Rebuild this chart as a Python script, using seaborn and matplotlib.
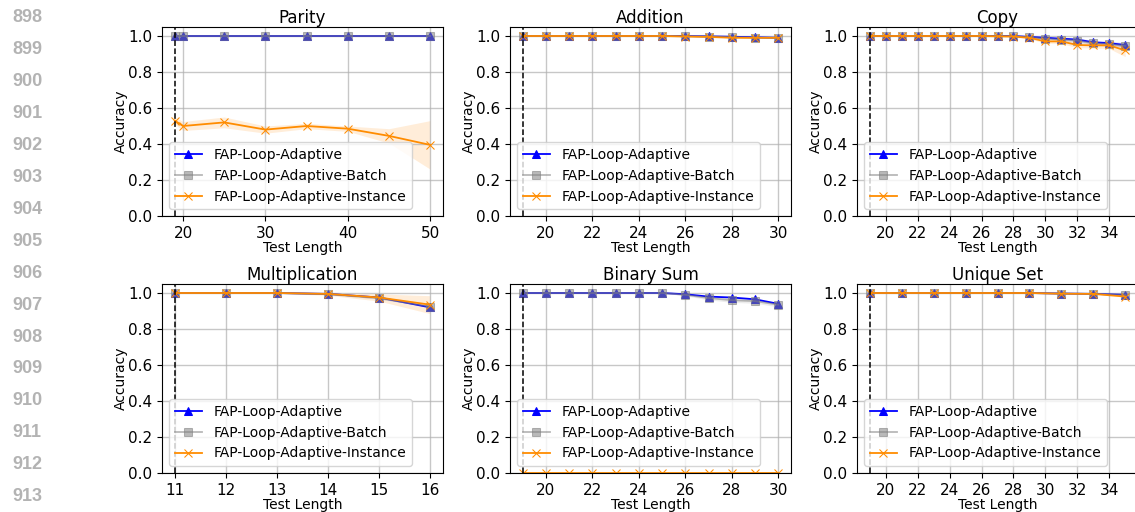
import seaborn as sns
import matplotlib.pyplot as plt
from matplotlib.ticker import MultipleLocator

# Parity
parity_x = [19, 20, 25, 30, 35, 40, 45, 50]
parity_adaptive = [1.0, 1.0, 1.0, 1.0, 1.0, 1.0, 1.0, 1.0]
parity_batch = [1.0, 1.0, 1.0, 1.0, 1.0, 1.0, 1.0, 1.0]
parity_instance = [0.53, 0.50, 0.52, 0.48, 0.50, 0.485, 0.445, 0.395]
parity_instance_err = [0.02, 0.025, 0.03, 0.02, 0.015, 0.015, 0.04, 0.135]

# Addition
addition_x = [19, 20, 21, 22, 23, 24, 25, 26, 27, 28, 29, 30]
addition_adaptive = [1.0, 1.0, 1.0, 1.0, 1.0, 1.0, 1.0, 1.0, 0.998, 0.996, 0.993, 0.99]
addition_batch = [1.0, 1.0, 1.0, 1.0, 1.0, 1.0, 1.0, 0.999, 0.997, 0.995, 0.99, 0.988]
addition_instance = [1.0, 1.0, 1.0, 1.0, 1.0, 1.0, 1.0, 0.997, 0.995, 0.99, 0.99, 0.99]

# Copy
copy_x = [19, 20, 21, 22, 23, 24, 25, 26, 27, 28, 29, 30, 31, 32, 33, 34, 35]
copy_adaptive = [1.0, 1.0, 1.0, 1.0, 1.0, 1.0, 1.0, 1.0, 1.0, 1.0,
                 0.995, 0.99, 0.985, 0.98, 0.965, 0.96, 0.95]
copy_batch = [1.0, 1.0, 1.0, 1.0, 1.0, 1.0, 1.0, 1.0, 1.0, 0.999,
              0.993, 0.985, 0.98, 0.975, 0.96, 0.955, 0.945]
copy_instance = [1.0, 1.0, 1.0, 1.0, 1.0, 1.0, 1.0, 1.0, 0.998, 0.997,
                 0.99, 0.97, 0.97, 0.95, 0.948, 0.948, 0.92]
copy_adaptive_err = [0, 0, 0, 0, 0, 0, 0, 0, 0, 0,
                     0.004, 0.006, 0.008, 0.01, 0.01, 0.012, 0.012]
copy_instance_err = [0, 0, 0, 0, 0, 0, 0, 0, 0.002, 0.003,
                     0.006, 0.01, 0.012, 0.015, 0.015, 0.018, 0.035]

# Multiplication
mult_x = [11, 12, 13, 14, 15, 16]
mult_adaptive = [1.0, 1.0, 1.0, 0.995, 0.975, 0.92]
mult_batch = [1.0, 1.0, 1.0, 0.993, 0.97, 0.925]
mult_instance = [1.0, 1.0, 1.0, 0.995, 0.975, 0.935]
mult_instance_err = [0, 0, 0.002, 0.008, 0.02, 0.05]

# Binary Sum
binsum_x = [19, 20, 21, 22, 23, 24, 25, 26, 27, 28, 29, 30]
binsum_adaptive = [1.0, 1.0, 1.0, 1.0, 1.0, 1.0, 1.0, 0.993, 0.98, 0.975, 0.965, 0.94]
binsum_batch = [1.0, 1.0, 1.0, 1.0, 1.0, 1.0, 1.0, 0.99, 0.972, 0.96, 0.955, 0.935]
binsum_instance = [0.0, 0.0, 0.0, 0.0, 0.0, 0.0, 0.0, 0.0, 0.0, 0.0, 0.0, 0.0]
binsum_batch_err = [0, 0, 0, 0, 0, 0, 0, 0.006, 0.01, 0.012, 0.012, 0.012]

# Unique Set
unique_x = [19, 21, 23, 25, 27, 29, 31, 33, 35]
unique_adaptive = [1.0, 1.0, 1.0, 1.0, 1.0, 1.0, 0.997, 0.995, 0.99]
unique_batch = [1.0, 1.0, 1.0, 1.0, 1.0, 1.0, 0.997, 0.995, 0.99]
unique_instance = [1.0, 1.0, 1.0, 1.0, 1.0, 1.0, 0.996, 0.995, 0.98]

labels = ['FAP-Loop-Adaptive', 'FAP-Loop-Adaptive-Batch', 'FAP-Loop-Adaptive-Instance']
line_numbers = list(range(898, 914))

W, H = 1135, 512
fig = plt.figure(figsize=(W / 100, H / 100), dpi=100)

# line numbers of the paper page
for i, n in enumerate(line_numbers):
    fig.text(12 / W, 1 - (18 + i * 31.9) / H, str(n), ha='left', va='center',
             fontsize=13, fontweight='bold', color='#b3b3b3', family='Liberation Sans')

lefts = [162, 510, 857]
tops = [27, 284]
aw, ah = 281, 189


def panel(ax, title, x, ys, errs, vline, step):
    colors = ['blue', 'grey', 'darkorange']
    markers = ['^', 's', 'x']
    alphas = [1.0, 0.55, 1.0]
    for y, err, c, m, a, lab in zip(ys, errs, colors, markers, alphas, labels):
        sns.lineplot(x=x, y=y, ax=ax, color=c, marker=m, markersize=5.5,
                     markeredgecolor=c, alpha=a, label=lab, linewidth=1.3,
                     errorbar=None)
        if err is not None:
            lo = [v - e for v, e in zip(y, err)]
            hi = [v + e for v, e in zip(y, err)]
            ax.fill_between(x, lo, hi, color=c, alpha=0.15, linewidth=0)
    ax.axvline(vline, color='black', linestyle='--', linewidth=1.1)
    ax.set_ylim(0, 1.05)
    ax.set_yticks([0.0, 0.2, 0.4, 0.6, 0.8, 1.0])
    ax.xaxis.set_major_locator(MultipleLocator(step))
    ax.grid(True, color='#b0b0b0', linewidth=1.0, alpha=0.7)
    ax.set_title(title, fontsize=12, pad=3)
    ax.set_xlabel('Test Length', fontsize=10, labelpad=0)
    ax.set_ylabel('Accuracy', fontsize=10, labelpad=0)
    ax.tick_params(labelsize=11)
    ax.legend(loc='lower left', fontsize=10)


axes = []
for r in range(2):
    for c in range(3):
        axes.append(fig.add_axes([lefts[c] / W, 1 - (tops[r] + ah) / H, aw / W, ah / H]))

panel(axes[0], 'Parity', parity_x,
      [parity_adaptive, parity_batch, parity_instance],
      [None, None, parity_instance_err], 19, 10)
panel(axes[1], 'Addition', addition_x,
      [addition_adaptive, addition_batch, addition_instance],
      [None, None, None], 19, 2)
panel(axes[2], 'Copy', copy_x,
      [copy_adaptive, copy_batch, copy_instance],
      [copy_adaptive_err, copy_adaptive_err, copy_instance_err], 19, 2)
panel(axes[3], 'Multiplication', mult_x,
      [mult_adaptive, mult_batch, mult_instance],
      [None, None, mult_instance_err], 11, 1)
panel(axes[4], 'Binary Sum', binsum_x,
      [binsum_adaptive, binsum_batch, binsum_instance],
      [None, binsum_batch_err, None], 19, 2)
panel(axes[5], 'Unique Set', unique_x,
      [unique_adaptive, unique_batch, unique_instance],
      [None, None, None], 19, 2)

fig.savefig('out.png', dpi=100)
